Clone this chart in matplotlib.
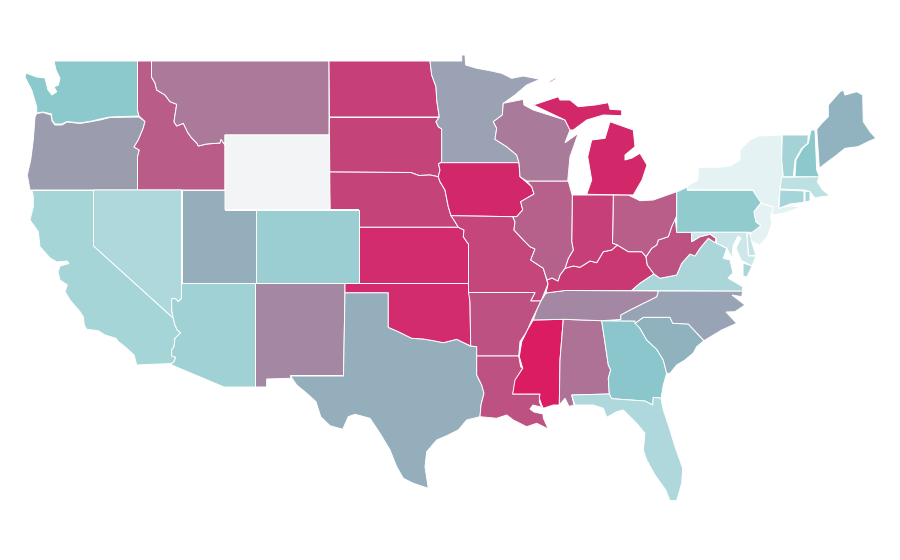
import matplotlib
matplotlib.use('Agg')
import matplotlib.pyplot as plt

# state outlines, in picture pixels
WA = [(54,61),(137.5,61),(137.5,110),(139,116),(110,117),(100,119),(92,121),(80,123),(67,121.5),(62,124),(55,124),(52,120),(51.5,114),(43,112),(36.7,113),(36.7,107),(34.7,100),(31.7,90),(28,83),(25,77),(26,73),(36.7,77),(45,78),(48,90),(52,95),(56.7,91.7),(54,87),(58.3,85),(60,78.3),(56,70)]
OR = [(36.7,113.5),(43,112.5),(51,115),(52,121),(55,125),(62,125),(67,122),(80,123.5),(92,121.5),(100,120),(110,117.5),(139,117),(145,121.5),(143.3,128),(138.3,140),(134,147),(139.3,150),(137.5,157),(137.5,190),(30,190),(27.3,175),(30.7,160),(33.3,140),(35,117)]
ID = [(137.5,61),(151.5,61),(151.5,77),(155,83),(156.7,90),(165,95),(170,101.7),(176.7,104.3),(175,115),(174,121.7),(176.7,126),(183.3,123.3),(188,133),(191.7,138),(196.7,143),(198.3,146),(206.7,144),(220,143),(221,139.3),(225,145),(225,190),(137.5,190),(137.5,157),(139.3,150),(134,147),(138.3,140),(143.3,128),(145,121.5),(139,116),(137.5,110)]
MT = [(151.5,61),(329,61),(329,135),(225,135),(225,145),(221,139.3),(220,143),(206.7,144),(198.3,146),(196.7,143),(191.7,138),(188,133),(183.3,123.3),(176.7,126),(174,121.7),(175,115),(176.7,104.3),(170,101.7),(165,95),(156.7,90),(155,83),(151.5,77)]
WY = [(225,135),(329.5,135),(330,209.5),(225,209.5)]
ND = [(329,61),(430,61),(431.7,75),(436,86.7),(436.7,100),(439.3,117),(329.5,117)]
SD = [(329.5,117.5),(439.3,117.5),(436,121.7),(438.3,126.7),(441.7,129),(441.7,161.7),(438.5,164),(440,170),(438.3,176.7),(430,175),(419,175.5),(410.7,172.5),(329,172)]
NE = [(329,172),(410.7,172.5),(419,175.5),(430,175),(438.3,176.7),(440,181.7),(445,190),(448.3,206.7),(451,215.5),(455,221.7),(458.3,227.3),(358.5,227.3),(358.5,209.5),(330,209.5)]
KS = [(358.5,227.3),(458.3,227.3),(464,230),(463.3,236.7),(466.7,241.7),(468.5,244),(468.5,283.5),(358.5,283.5)]
CO = [(255.5,209.5),(358.5,209.5),(358.5,283.5),(255.5,283.5)]
UT = [(181.5,190),(225,190),(225,209.5),(255.5,209.5),(255.5,283.5),(181.5,283.5)]
NV = [(93.5,190),(181.5,190),(181.5,298.3),(178.3,301.7),(175,298.3),(171.7,299),(171.7,310),(173.3,318.3),(93.5,246)]
CA = [(32,190.5),(93.5,190.5),(93.5,246),(173.3,318.3),(175,325),(177.3,330),(180.7,332.7),(175,338.3),(174,346.7),(171.7,350),(171.7,356),(175.7,357.3),(174,361.7),(171.7,363.5),(136.7,365),(134,355),(125,346.7),(118.3,341.7),(116,338.3),(105,335),(98.3,330.7),(86.7,329.3),(84.3,325),(83.3,316.7),(80,311.7),(70,300),(65,291.7),(67.3,285),(60,280),(58,272),(60,266),(69,263.5),(67,261),(57,262),(50,258),(40,246.7),(38.3,231.7),(30,220),(33.3,206.7),(33.3,196.7)]
AZ = [(181.5,283.5),(255.5,283.5),(255.5,387),(224,387),(171.7,365),(171.7,363.5),(174,361.7),(175.7,357.3),(171.7,356),(171.7,350),(174,346.7),(175,338.3),(180.7,332.7),(177.3,330),(175,325),(173.3,318.3),(171.7,310),(171.7,299),(175,298.3),(178.3,301.7),(181.5,298.3)]
NM = [(255.5,283.5),(345,283.5),(345,292.7),(343.5,375.5),(290.5,375.5),(290.5,378.3),(266.7,379),(266.7,387),(255.5,387)]
TX = [(290.5,376),(343.5,376),(345,292.7),(388.3,292.7),(388.3,327.3),(398.3,331.7),(411.7,338.3),(423.3,339),(433.3,340.7),(443.3,342.7),(456.7,339.3),(470,346),(476.7,346.7),(476.7,375),(481.7,385),(484,393.3),(481,405),(480,416.7),(466.7,420),(458.3,430),(446.7,435.7),(436.7,440),(426.7,451.7),(425,466.7),(428.3,488.3),(413.3,483.3),(403.3,478.3),(396.7,466.7),(390,450),(380,433.3),(370,418.3),(355,414.3),(348.3,416.7),(342.7,429.3),(330,425.7),(320.7,416.7),(316,401.7),(306.7,393.3),(296.7,385)]
OK = [(345,283.5),(468.5,283.5),(470,301.7),(470.7,346),(456.7,339.3),(443.3,342.7),(433.3,340.7),(423.3,339),(411.7,338.3),(398.3,331.7),(388.3,327.3),(388.3,292.7),(345,292.7)]
MN = [(430,61),(461.7,61),(461.7,55),(465,55),(465.7,65),(476.7,68.3),(490,70.7),(501.7,73.3),(511.7,78.3),(523.3,76),(540,79.3),(526.7,85),(515,95),(503.3,103.3),(502.3,115),(493.3,121.7),(496.7,128.3),(495,139.3),(506.7,146.7),(516.7,155),(519,162.7),(441.7,162.7),(441.7,129),(438.3,126.7),(436,121.7),(439.3,117),(436.7,100),(436,86.7),(431.7,75)]
IA = [(441,162.7),(519,162.7),(520,176.7),(531.7,186.7),(534,194),(520.7,201.7),(522.7,210),(516.7,216.7),(512.7,216.7),(451,215.7),(448.3,206.7),(445,190),(440,181.7),(438.3,176.7),(440,170),(438.5,164)]
MO = [(451,215.7),(512.7,216.7),(515,221.7),(514,230),(523.3,240),(530,246.7),(535,249),(530.7,260),(543.3,268.3),(548,284),(541,301),(530.7,301),(535,292.5),(468.5,292.5),(468.5,244),(466.7,241.7),(463.3,236.7),(464,230),(458.3,227.3),(455,221.7)]
AR = [(468.5,292.5),(535,292.5),(530.7,301),(541,301),(536.7,310),(531.7,320),(526.7,331.7),(520,341.7),(518.7,356),(476.7,356),(476.7,346.7),(470.7,346),(470,301.7)]
LA = [(476.7,356),(518.7,356),(520.7,366.7),(522.7,368.3),(516.7,378.3),(512.7,394),(540,394),(539.3,401.7),(541.7,407.3),(533,405),(530,409),(534,412),(543,414),(543.3,418),(548.3,429),(536.7,423.3),(526.7,426.7),(513.3,420),(506.7,415),(496.7,418.3),(480,416.7),(481,405),(484,393.3),(481.7,385),(476.7,375)]
MS = [(533.3,320),(563.3,319.3),(560,360),(559.3,405),(553.3,405),(543.3,408.3),(541.7,405),(539.3,398.3),(540,394),(512.7,394),(515,380),(522.7,368.3),(519.3,356.7),(521.7,341.7),(528.3,328.3)]
AL = [(563.3,319.3),(601.7,320.7),(608.3,365),(610.7,370),(608.3,378.3),(609.3,394),(571.7,395),(574,405),(569,406.5),(565,398.3),(559.3,405),(560,360)]
GA = [(601.7,320.7),(635,321),(640,328.3),(646.7,340),(656.7,349.3),(663.3,360),(666.7,373.3),(663.3,385),(661,398.3),(653.3,397.3),(652.7,405),(645,401),(611.7,398.7),(609.3,394),(608.3,378.3),(610.7,370),(608.3,365)]
FL = [(571.7,395),(609.3,394),(611.7,398.7),(645,401),(652.7,405),(653.3,397.3),(661,398.3),(663.3,410),(670,430),(675,446.7),(682.7,468.3),(681.7,483.3),(676.7,500.7),(670,500.7),(665.7,490),(655,475),(646.7,460),(643.3,450),(645,433.3),(636.7,423.3),(623.3,410),(616.7,411.7),(606.7,417.3),(603.3,408.3),(593.3,405),(575,405)]
SC = [(635,323.3),(643.3,317.3),(670,317.3),(672.7,323.3),(688.3,324),(704,340.7),(696.7,346.7),(693.3,353),(685,360),(676.7,365),(670,373.3),(666.7,373.3),(663.3,360),(656.7,349.3),(646.7,340),(640,328.3)]
NC = [(620.7,319.5),(620.7,315),(630,310),(640,305),(646.7,301.7),(656.7,296.7),(658.3,291),(742.7,291),(741.7,296.7),(732,295),(745,305),(735,311.7),(726,312),(736.7,323.3),(721.7,330),(704,340.7),(688.3,324),(672.7,323.3),(670,317.3),(643.3,317.3),(635,323.3),(635,321),(601.7,320.7)]
TN = [(541,301),(546,293),(565,290.5),(658.3,291),(656.7,296.7),(646.7,301.7),(640,305),(630,310),(620.7,315),(620.7,319.5),(601.7,320.7),(563.3,319.3),(533.3,320),(536.7,310)]
KY = [(548,284),(547,280),(552,278),(558,281),(560,275),(565,268.3),(573.3,266),(580,267.3),(590,261),(596.7,262.7),(603.3,251.7),(611.7,250),(617.3,245),(628.3,251.7),(641.7,251.7),(646,256.7),(647.3,265),(654,274),(640,283.3),(631.7,290.5),(565,290.5),(546,293)]
VA = [(631.7,290.5),(640,283.3),(654,274),(660,278.3),(676.7,275),(681.7,263.3),(690,254),(695,256),(700,248.3),(708.3,238.3),(716.7,243.3),(726.7,248.3),(723.3,258.3),(730,260),(733,273),(728,278),(742.7,286.7),(742.7,291)]
VA_shore = [(743,263),(752,266),(747,277),(743,276)]
WV = [(646,256.7),(651.7,248.3),(656.7,245),(658.3,240),(668.3,236.7),(671.7,226.7),(675,216),(676.7,232.3),(691.7,232.3),(691.7,241.7),(700,236.7),(706.7,235),(710,234),(716,238.3),(715,242.7),(708.3,238.3),(700,248.3),(695,256),(690,254),(681.7,263.3),(676.7,275),(660,278.3),(654,274),(647.3,265)]
OH = [(613.3,195),(628.3,195),(640,200.7),(653.3,200),(676.7,191.7),(676.7,216),(671.7,226.7),(668.3,236.7),(658.3,240),(656.7,245),(651.7,248.3),(646,256.7),(641.7,251.7),(628.3,251.7),(617.3,245),(612.5,243.3)]
IN = [(572.3,195),(613.3,195),(612.5,243.3),(617.3,245),(611.7,250),(603.3,251.7),(596.7,262.7),(590,261),(580,267.3),(573.3,266),(565,268.3),(568.3,258.3),(573.3,250),(571.7,241.7)]
IL = [(526.7,181),(568.3,181),(572.3,195.7),(571.7,241.7),(573.3,250),(568.3,258.3),(565,268.3),(560,275),(558,281),(552,278),(547,280),(543.3,268.3),(530.7,260),(535,249),(530,246.7),(523.3,240),(514,230),(515,221.7),(512.7,216.7),(516.7,216.7),(522.7,210),(520.7,201.7),(534,194),(531.7,186.7)]
WI = [(503.3,103.3),(523.3,99.3),(524,105),(533.3,110),(565,120),(570,130),(565,142.7),(578.3,133.3),(570,156.7),(567.7,181),(526.7,181),(520,176.7),(519,162.7),(516.7,155),(506.7,146.7),(495,139.3),(496.7,128.3),(493.3,121.7),(502.3,115)]
MI_upper = [(533.3,105),(558.3,96.7),(560,100),(570,100),(578.3,106.7),(595,105),(608.3,102.7),(610,109.3),(621.7,110),(621.7,115.7),(603.3,115),(586.7,120),(573.3,130),(570,130),(565,120)]
MI_lower = [(610,121.7),(633.3,130),(635,146.7),(625,155),(625,160),(632,158),(640,153.3),(647,165),(642,180),(633.3,195),(586.7,194.3),(591.7,180),(587.7,156.7),(591.7,140),(605,138.3)]
MI_isle = [(549,81.5),(556,77.5),(556,79),(550,82.5)]
NY = [(687.3,189.3),(687.3,186),(698,180),(698.3,167.3),(718.3,167.3),(730,166),(740,160),(740,150),(750,140),(758.3,136),(781.7,135),(781.7,160),(783.3,176.7),(780,186.7),(778.3,208.3),(790,206),(801.7,206.7),(785,213),(773.3,215),(771.7,211.7),(773.3,206.7),(761,203),(756.7,196.7),(752.7,190)]
PA = [(676.7,232.3),(676.7,192),(687.3,187),(687.3,190.3),(752.7,190.3),(757.3,197.3),(761,202.7),(754,211.7),(756,221.7),(761,225.7),(755,232.3)]
NJ = [(761,203.3),(773.3,207.3),(770.7,216.7),(771.7,223.3),(767.3,236.7),(760,245),(750,240.7),(750,234),(761,225.7),(756,221.7),(754,211.7)]
DE = [(747,233),(750,234),(752,243),(756,255),(748.5,256)]
MD = [(691.7,232.3),(746.7,232.3),(748.3,256),(756,256),(752,266),(741,260),(736,248),(741,238),(738,236),(733,246),(732,258),(726.7,248),(716.7,243.3),(716,238.3),(710,234),(706.7,235),(700,236.7),(691.7,241.7)]
CT = [(780,190),(804,191),(804,202.3),(790,204),(779,208.3)]
RI = [(805,191),(810,191.7),(810,200.7),(805,202.3)]
MA = [(781.7,177.3),(815,176.7),(820,175),(817.3,181.7),(822.7,190),(830,195.7),(821.7,196.7),(815,198),(810,191.7),(804,190),(780,189)]
VT = [(782.3,135),(808.3,135),(807.7,143.3),(801.7,148.3),(795,160),(793.3,176.7),(783.3,176.7),(781.7,160)]
NH = [(811,130),(815,130),(816.7,170),(819.3,176.7),(795,176.7),(796,160),(802.7,148.3),(808.3,143.3)]
ME = [(816.7,129.3),(821.7,123.3),(828.3,116.7),(828.3,105),(840,91.7),(843.3,90),(845,95),(856.7,91.7),(862.7,95),(863.3,121.7),(870,131.7),(876,138.3),(868,141.7),(858,146.7),(845,148.3),(836.7,155),(823.3,165),(819.3,168.3)]

shapes = [WA, OR, ID, MT, ND, SD, NE, KS, CO, UT, NV, CA, AZ, NM, TX, OK, MN, IA, MO, AR, LA, MS, AL, GA, FL, SC, NC, TN, KY, VA, VA_shore, WV, OH, IN, IL, WI, MI_upper, MI_lower, MI_isle, NY, PA, NJ, DE, MD, CT, RI, MA, VT, NH, ME, WY]
colors = ['#8cc9cc', '#9b9cae', '#ba5c88', '#ab7a9a', '#c63f78', '#c4447a', '#c4447a', '#d32c6e', '#9bced2', '#94aebc',
          '#aed8db', '#a6d5d8', '#9fd1d5', '#a487a2', '#94aebc', '#d32c6e', '#9aa2b4', '#d2286a', '#c4467a', '#bd5282',
          '#bd5282', '#dc1c62', '#ae7296', '#8ac6cb', '#aed8db', '#8fb2be', '#98a3b5', '#a487a2', '#ca3872', '#aad6d9',
          '#aad6d9', '#bd5282', '#b95e88', '#c63f78', '#b5618c', '#aa7a9a', '#d2286a', '#d2286a', '#d2286a', '#e5f2f4',
          '#91cbce', '#e5f2f4', '#c5e3e6', '#cce6e9', '#a5d5d8', '#a5d5d8', '#bde0e2', '#a3d3d6', '#8cc9cc', '#90b3bf',
          '#f3f4f6']

fig = plt.figure(figsize=(9, 5.6), dpi=100)
ax = fig.add_axes([0, 0, 1, 1])
for shape, color in zip(shapes, colors):
    xs = [p[0] for p in shape]
    ys = [p[1] for p in shape]
    ax.fill(xs, ys, facecolor=color, edgecolor='white', linewidth=0.7)
ax.set_xlim(0, 900)
ax.set_ylim(560, 0)
ax.axis('off')
fig.savefig('out.png', dpi=100)
